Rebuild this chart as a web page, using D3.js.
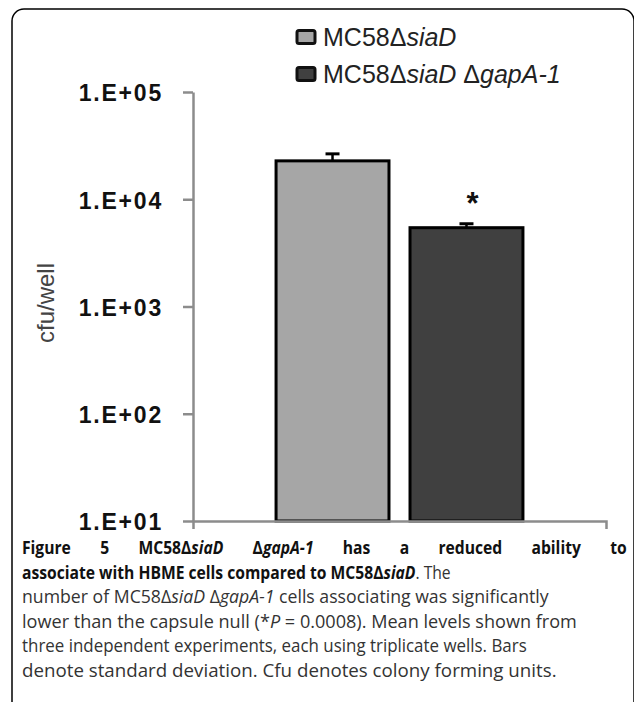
<!DOCTYPE html>
<html>
<head>
<meta charset="utf-8">
<script src="https://cdn.jsdelivr.net/npm/d3@7"></script>
<style>
  html, body { margin: 0; padding: 0; background: #fff; }
  svg { display: block; }
</style>
</head>
<body>
<svg id="chart" width="634" height="702"></svg>
<script>
// ---- data ----
const categories = ["HBME association"];
const seriesNames = ["MC58ΔsiaD", "MC58ΔsiaD ΔgapA-1"];
const seriesColors = ["#a6a6a6", "#404040"];
const means = [22800, 5430];
const sds = [3700, 480];
const significance = ["", "*"];
const yTickValues = [1e1, 1e2, 1e3, 1e4, 1e5];
const yTickLabels = ["1.E+01", "1.E+02", "1.E+03", "1.E+04", "1.E+05"];
const yLabel = "cfu/well";
const captionLines = [
  [{t: "Figure 5 MC58Δ", b: 1}, {t: "siaD", b: 1, i: 1}, {t: " Δ", b: 1}, {t: "gapA-1", b: 1, i: 1}, {t: " has a reduced ability to", b: 1}],
  [{t: "associate with HBME cells compared to MC58Δ", b: 1}, {t: "siaD", b: 1, i: 1}, {t: ". The"}],
  [{t: "number of MC58Δ"}, {t: "siaD", i: 1}, {t: " Δ"}, {t: "gapA-1", i: 1}, {t: " cells associating was significantly"}],
  [{t: "lower than the capsule null (*"}, {t: "P", i: 1}, {t: " = 0.0008). Mean levels shown from"}],
  [{t: "three independent experiments, each using triplicate wells. Bars"}],
  [{t: "denote standard deviation. Cfu denotes colony forming units."}]
];
const captionLineEnds = [627, 451, 549, 577, 527, 557];

const svg = d3.select("#chart");

// frame
svg.append("rect")
  .attr("x", 12).attr("y", 9).attr("width", 622).attr("height", 760)
  .attr("rx", 12).attr("ry", 12)
  .attr("fill", "none").attr("stroke", "#000").attr("stroke-width", 1.5);

// ---- scales ----
const plot = {left: 193, right: 606, top: 92, bottom: 521};
const y = d3.scaleLog().domain([1e1, 1e5]).range([plot.bottom, plot.top]);
const x0 = d3.scaleBand().domain(categories).range([plot.left, plot.right]).padding(0);
const x1 = d3.scaleBand().domain(seriesNames).range([0, x0.bandwidth()])
  .paddingInner(0.157).paddingOuter(0.62);

const axisColor = "#8c8c8c";

// bars
const g = svg.append("g");
const data = seriesNames.map((s, i) => ({s, v: means[i], sd: sds[i], c: seriesColors[i], sig: significance[i], cat: categories[0]}));

g.selectAll("rect.bar").data(data).enter().append("rect")
  .attr("class", "bar")
  .attr("x", d => x0(d.cat) + x1(d.s))
  .attr("width", x1.bandwidth())
  .attr("y", d => y(d.v))
  .attr("height", d => y(1e1) - y(d.v))
  .attr("fill", d => d.c)
  .attr("stroke", "#000").attr("stroke-width", 3);

// error bars
const capW = 14;
data.forEach(d => {
  const cx = x0(d.cat) + x1(d.s) + x1.bandwidth() / 2;
  g.append("line")
    .attr("x1", cx).attr("x2", cx)
    .attr("y1", y(d.v)).attr("y2", y(d.v + d.sd))
    .attr("stroke", "#000").attr("stroke-width", 2.5);
  g.append("line")
    .attr("x1", cx - capW / 2).attr("x2", cx + capW / 2)
    .attr("y1", y(d.v + d.sd)).attr("y2", y(d.v + d.sd))
    .attr("stroke", "#000").attr("stroke-width", 3);
  if (d.sig) {
    g.append("text")
      .attr("x", cx + 6).attr("y", y(d.v + d.sd) - 10)
      .attr("text-anchor", "middle")
      .attr("font-family", "Arial, 'Liberation Sans', sans-serif")
      .attr("font-weight", "bold").attr("font-size", 31)
      .attr("fill", "#111")
      .text(d.sig);
  }
});

// y axis
const yAxis = d3.axisLeft(y)
  .tickValues(yTickValues)
  .tickFormat((d, i) => yTickLabels[i])
  .tickSize(10).tickSizeOuter(0).tickPadding(20);
const gy = svg.append("g").attr("transform", `translate(${plot.left},0)`).call(yAxis);
gy.select(".domain").attr("stroke", axisColor).attr("stroke-width", 2.5);
gy.selectAll(".tick line").attr("stroke", axisColor).attr("stroke-width", 2.5);
gy.selectAll(".tick text")
  .attr("font-family", "Arial, 'Liberation Sans', sans-serif")
  .attr("font-weight", "bold").attr("font-size", 23)
  .attr("letter-spacing", 1.8)
  .attr("fill", "#111").attr("dy", "0.38em");

// x axis
const xAxis = d3.axisBottom(x0).tickValues([]).tickSizeOuter(8);
const gx = svg.append("g").attr("transform", `translate(0,${plot.bottom})`).call(xAxis);
gx.select(".domain").attr("stroke", axisColor).attr("stroke-width", 2.5);

// y label
svg.append("text")
  .attr("transform", `translate(54,303) rotate(-90)`)
  .attr("text-anchor", "middle")
  .attr("font-family", "Arial, 'Liberation Sans', sans-serif")
  .attr("font-size", 24).attr("fill", "#444")
  .text(yLabel);

// legend
function richText(sel, str) {
  const parts = str.split(/(siaD|gapA-1)/).filter(p => p.length);
  parts.forEach(p => {
    sel.append("tspan").attr("font-style", /^(siaD|gapA-1)$/.test(p) ? "italic" : "normal").text(p);
  });
}
const legend = svg.append("g");
seriesNames.forEach((s, i) => {
  const ly = 37 + i * 37;
  legend.append("rect")
    .attr("x", 297).attr("y", ly - 6.5).attr("width", 18).attr("height", 13)
    .attr("rx", 2)
    .attr("fill", seriesColors[i]).attr("stroke", "#111").attr("stroke-width", 3);
  const t = legend.append("text")
    .attr("x", 323).attr("y", ly + 8.5)
    .attr("font-family", "Arial, 'Liberation Sans', sans-serif")
    .attr("font-size", 25).attr("fill", "#222");
  richText(t, s);
});

// caption
const capX = 22, capY0 = 554, capLH = 24.5, capSize = 18;
const capFont = "'Open Sans', 'Noto Sans', sans-serif";
const capTexts = captionLines.map(parts => {
  const t = svg.append("text")
    .attr("x", 0).attr("y", 0)
    .attr("font-family", capFont).attr("font-size", capSize);
  parts.forEach(p => {
    t.append("tspan")
      .attr("font-weight", p.b ? "bold" : "normal")
      .attr("font-style", p.i ? "italic" : "normal")
      .attr("fill", p.b ? "#111" : "#333")
      .text(p.t);
  });
  return t;
});
const widths = capTexts.map(t => t.node().getComputedTextLength());
const scales = widths.map((w, i) => (captionLineEnds[i] - capX) / w);
// line 1 is justified: same glyph condensation as line 2, extra width into word gaps
{
  const full = captionLines[0].map(p => p.t).join("");
  const spaces = (full.match(/ /g) || []).length;
  scales[0] = scales[1];
  capTexts[0].attr("word-spacing", ((captionLineEnds[0] - capX) / scales[0] - widths[0]) / spaces);
}
capTexts.forEach((t, i) => {
  t.attr("transform", `translate(${capX},${capY0 + i * capLH}) scale(${scales[i]},1)`);
});
</script>
</body>
</html>
